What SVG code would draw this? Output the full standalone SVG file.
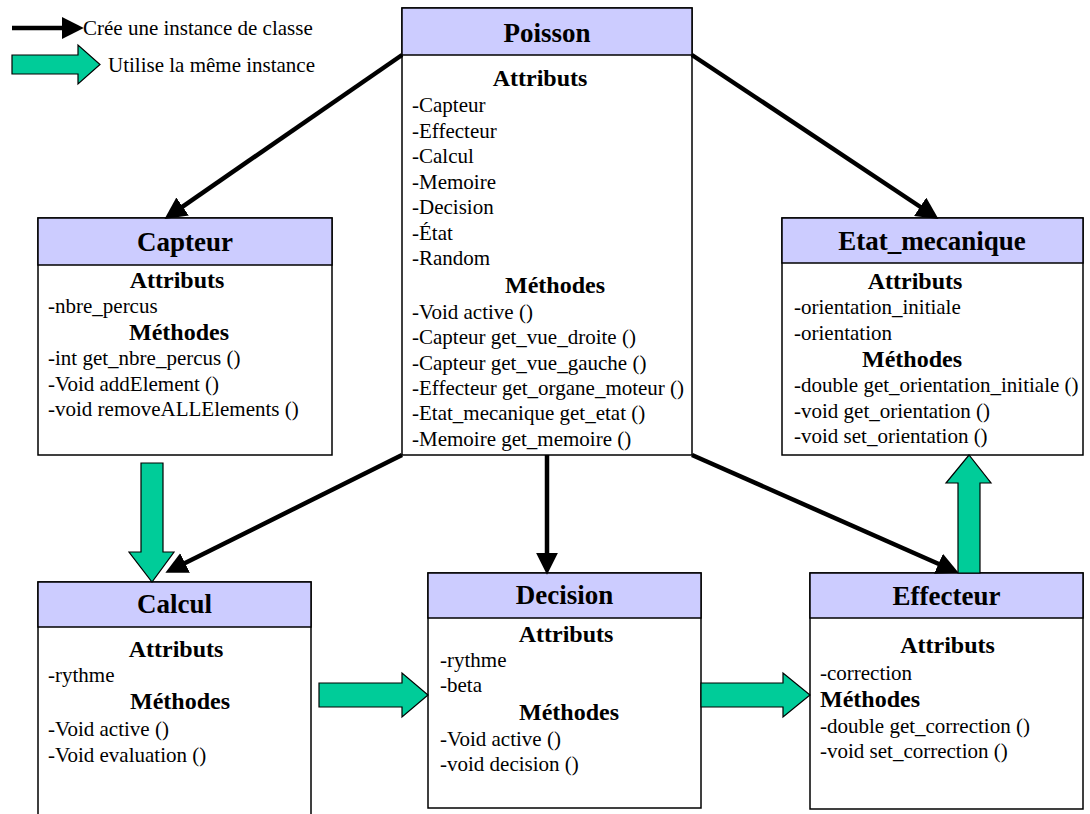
<svg xmlns="http://www.w3.org/2000/svg" width="1090" height="814" viewBox="0 0 1090 814">
<style>
  .box{fill:#ffffff;stroke:#000;stroke-width:1.5}
  .hdr{fill:#ccccff;stroke:#000;stroke-width:1.5}
  .title{font-family:"Liberation Serif","Times New Roman",serif;font-size:27px;font-weight:bold;text-anchor:middle;fill:#000}
  .sec{font-family:"Liberation Serif","Times New Roman",serif;font-size:24px;font-weight:bold;text-anchor:middle;fill:#000}
  .secl{font-family:"Liberation Serif","Times New Roman",serif;font-size:24px;font-weight:bold;fill:#000}
  .item{font-family:"Liberation Serif","Times New Roman",serif;font-size:21px;fill:#000}
  .creates{fill:none;stroke:#000;stroke-width:4.5}
  .uses{fill:#00cc99;stroke:#000;stroke-width:1.2;stroke-linejoin:miter}
</style>
<defs>
  <marker id="ah" markerUnits="userSpaceOnUse" markerWidth="22" markerHeight="22" viewBox="0 0 20 20" refX="2" refY="10" orient="auto">
    <path d="M0,0 L20,10 L0,20 z" fill="#000"/>
  </marker>
</defs>

<g id="legend">
  <line class="creates" x1="12" y1="28" x2="64" y2="28" marker-end="url(#ah)"/>
  <text class="item" x="83" y="34.5">Crée une instance de classe</text>
  <polygon class="uses" points="12,55 78,55 78,45 100,64.5 78,84 78,74 12,74"/>
  <text class="item" x="108" y="72">Utilise la même instance</text>
</g>

<g id="node-poisson">
  <rect class="box" x="402" y="8" width="290" height="447"/>
  <rect class="hdr" x="402" y="8" width="290" height="47"/>
  <text class="title" x="547" y="42">Poisson</text>
  <text class="sec" x="540" y="86">Attributs</text>
  <text class="item" x="412" y="112">-Capteur</text>
  <text class="item" x="412" y="138">-Effecteur</text>
  <text class="item" x="412" y="163">-Calcul</text>
  <text class="item" x="412" y="189">-Memoire</text>
  <text class="item" x="412" y="214">-Decision</text>
  <text class="item" x="412" y="240">-État</text>
  <text class="item" x="412" y="265">-Random</text>
  <text class="sec" x="555" y="293">Méthodes</text>
  <text class="item" x="412" y="319">-Void active ()</text>
  <text class="item" x="412" y="344">-Capteur get_vue_droite ()</text>
  <text class="item" x="412" y="370">-Capteur get_vue_gauche ()</text>
  <text class="item" x="412" y="395">-Effecteur get_organe_moteur ()</text>
  <text class="item" x="412" y="420">-Etat_mecanique get_etat ()</text>
  <text class="item" x="412" y="446">-Memoire get_memoire ()</text>
</g>

<g id="node-capteur">
  <rect class="box" x="38" y="218" width="294" height="237"/>
  <rect class="hdr" x="38" y="218" width="294" height="47"/>
  <text class="title" x="185" y="251">Capteur</text>
  <text class="sec" x="177" y="288">Attributs</text>
  <text class="item" x="48" y="313">-nbre_percus</text>
  <text class="sec" x="179" y="340">Méthodes</text>
  <text class="item" x="48" y="365">-int get_nbre_percus ()</text>
  <text class="item" x="48" y="391">-Void addElement ()</text>
  <text class="item" x="48" y="416">-void removeALLElements ()</text>
</g>

<g id="node-etat">
  <rect class="box" x="782" y="218" width="301" height="237"/>
  <rect class="hdr" x="782" y="218" width="301" height="45"/>
  <text class="title" x="932" y="250">Etat_mecanique</text>
  <text class="sec" x="915" y="289">Attributs</text>
  <text class="item" x="794" y="314">-orientation_initiale</text>
  <text class="item" x="794" y="340">-orientation</text>
  <text class="sec" x="912" y="367">Méthodes</text>
  <text class="item" x="794" y="392">-double get_orientation_initiale ()</text>
  <text class="item" x="794" y="418">-void get_orientation ()</text>
  <text class="item" x="794" y="443">-void set_orientation ()</text>
</g>

<g id="node-calcul">
  <rect class="box" x="38" y="582" width="273" height="250"/>
  <rect class="hdr" x="38" y="582" width="273" height="45"/>
  <text class="title" x="174.5" y="613">Calcul</text>
  <text class="sec" x="176" y="657">Attributs</text>
  <text class="item" x="48" y="682">-rythme</text>
  <text class="sec" x="180" y="709">Méthodes</text>
  <text class="item" x="48" y="736">-Void active ()</text>
  <text class="item" x="48" y="762">-Void evaluation ()</text>
</g>

<g id="node-decision">
  <rect class="box" x="428" y="573" width="273" height="235"/>
  <rect class="hdr" x="428" y="573" width="273" height="45"/>
  <text class="title" x="564.5" y="604">Decision</text>
  <text class="sec" x="566" y="642">Attributs</text>
  <text class="item" x="440" y="667">-rythme</text>
  <text class="item" x="440" y="692">-beta</text>
  <text class="sec" x="569" y="720">Méthodes</text>
  <text class="item" x="440" y="746">-Void active ()</text>
  <text class="item" x="440" y="771">-void decision ()</text>
</g>

<g id="node-effecteur">
  <rect class="box" x="810" y="573" width="273" height="236"/>
  <rect class="hdr" x="810" y="573" width="273" height="45"/>
  <text class="title" x="946.5" y="605">Effecteur</text>
  <text class="sec" x="947.5" y="653">Attributs</text>
  <text class="item" x="820" y="680">-correction</text>
  <text class="secl" x="820" y="707">Méthodes</text>
  <text class="item" x="820" y="733">-double get_correction ()</text>
  <text class="item" x="820" y="758">-void set_correction ()</text>
</g>

<g id="connectors">
  <line class="creates" x1="402" y1="55" x2="180.8" y2="207.8" marker-end="url(#ah)"/>
  <line class="creates" x1="692" y1="55" x2="922" y2="208" marker-end="url(#ah)"/>
  <line class="creates" x1="402" y1="455" x2="183.1" y2="564" marker-end="url(#ah)"/>
  <line class="creates" x1="547" y1="455" x2="547" y2="555" marker-end="url(#ah)"/>
  <line class="creates" x1="692" y1="455" x2="940.5" y2="564.7" marker-end="url(#ah)"/>
  <polygon class="uses" points="141,463 163,463 163,552 174,552 152,582 129,552 141,552"/>
  <polygon class="uses" points="319,683 402,683 402,673 428,695 402,717 402,707 319,707"/>
  <polygon class="uses" points="701,683 783,683 783,673 810,695 783,717 783,707 701,707"/>
  <polygon class="uses" points="958,573 958,483 946,483 969,455 991,483 980,483 980,573"/>
</g>
</svg>
